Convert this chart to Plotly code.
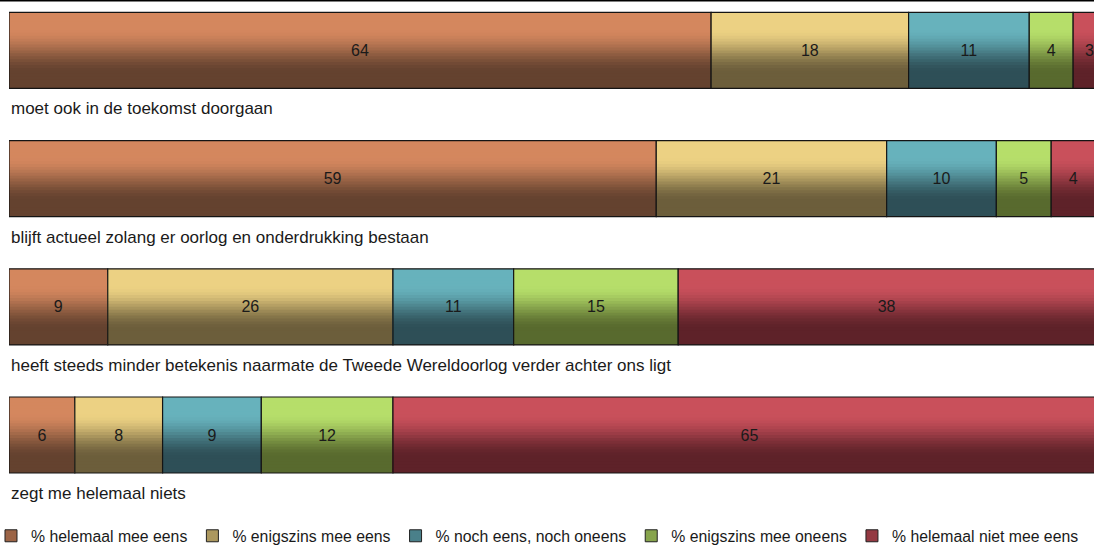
import numpy as np
import plotly.graph_objects as go

# ---------------- data ----------------
categories = [
    "moet ook in de toekomst doorgaan",
    "blijft actueel zolang er oorlog en onderdrukking bestaan",
    "heeft steeds minder betekenis naarmate de Tweede Wereldoorlog verder achter ons ligt",
    "zegt me helemaal niets",
]
series_names = [
    "% helemaal mee eens",
    "% enigszins mee eens",
    "% noch eens, noch oneens",
    "% enigszins mee oneens",
    "% helemaal niet mee eens",
]
helemaal_mee_eens = [64, 59, 9, 6]
enigszins_mee_eens = [18, 21, 26, 8]
noch_eens_noch_oneens = [11, 10, 11, 9]
enigszins_mee_oneens = [4, 5, 15, 12]
helemaal_niet_mee_eens = [3, 4, 38, 65]

# ---------------- style ----------------
top_colors = [(212, 135, 94), (236, 209, 131), (103, 178, 188), (182, 222, 106), (201, 80, 91)]
bottom_colors = [(100, 66, 47), (108, 94, 59), (46, 79, 87), (88, 106, 46), (94, 34, 41)]
FONT = "Liberation Sans, Arial, sans-serif"
TEXT_COLOR = "#1a1a1a"
BAR_W = 0.593
N_STRIPS = 26

series_values = [helemaal_mee_eens, enigszins_mee_eens, noch_eens_noch_oneens,
                 enigszins_mee_oneens, helemaal_niet_mee_eens]
ypos = list(range(len(categories)))


def profile(t):
    u = min(max((t - 0.22) / 0.58, 0.0), 1.0)
    return u * u * (3 - 2 * u)


def mix(c1, c2, f):
    return "rgb(%d,%d,%d)" % tuple(round(a + (b - a) * f) for a, b in zip(c1, c2))


fig = go.Figure()
base = np.zeros(len(categories))
for name, vals, ctop, cbot in zip(series_names, series_values, top_colors, bottom_colors):
    v = np.array(vals, dtype=float)
    # vertical gradient built from stacked strips
    for k in range(N_STRIPS):
        f = profile((k + 0.5) / N_STRIPS)
        fig.add_trace(go.Bar(
            orientation="h", y=ypos, x=v, base=base,
            width=BAR_W * (1 - k / N_STRIPS),
            offset=-BAR_W / 2 + BAR_W * k / N_STRIPS,
            marker=dict(color=mix(ctop, cbot, f), line=dict(width=0)),
            showlegend=False, hoverinfo="skip",
        ))
    # outline + value labels
    fig.add_trace(go.Bar(
        orientation="h", y=ypos, x=v, base=base, width=BAR_W,
        marker=dict(color="rgba(0,0,0,0)", line=dict(color="#141414", width=1.2)),
        text=[str(x) for x in vals], textposition="inside", insidetextanchor="middle",
        textangle=0, constraintext="none",
        textfont=dict(family=FONT, size=16, color=TEXT_COLOR),
        showlegend=False, hoverinfo="skip",
    ))
    # legend entry
    fig.add_trace(go.Bar(
        orientation="h", x=[None], y=[None], name=name,
        marker=dict(color=mix(ctop, cbot, 0.5), line=dict(color="#222222", width=1)),
    ))
    base = base + v

for i, cat in enumerate(categories):
    fig.add_annotation(
        xref="paper", x=0, xanchor="left", yref="y", y=ypos[i] + 0.457, yanchor="middle",
        text=cat, showarrow=False, font=dict(family=FONT, size=17, color=TEXT_COLOR),
    )

fig.add_shape(type="line", xref="paper", yref="paper", x0=-0.01, x1=1.0, y0=1, y1=1,
              line=dict(color="black", width=3))

fig.update_layout(
    width=1094, height=546,
    margin=dict(l=9, r=0, t=0, b=46, autoexpand=False),
    paper_bgcolor="white", plot_bgcolor="white",
    barmode="overlay",
    showlegend=True,
    legend=dict(orientation="h", x=-0.0166, xanchor="left", y=-0.072, yanchor="middle",
                font=dict(family=FONT, size=15.8, color=TEXT_COLOR),
                itemwidth=30, traceorder="normal", bgcolor="rgba(0,0,0,0)"),
    xaxis=dict(visible=False, range=[0, 98.9], fixedrange=True),
    yaxis=dict(visible=False, range=[3.507, -0.393], fixedrange=True),
    font=dict(family=FONT),
)

fig.write_html("out.html", config={"displayModeBar": False},
               post_script="document.body.style.margin='0px';document.body.style.overflow='hidden';")
